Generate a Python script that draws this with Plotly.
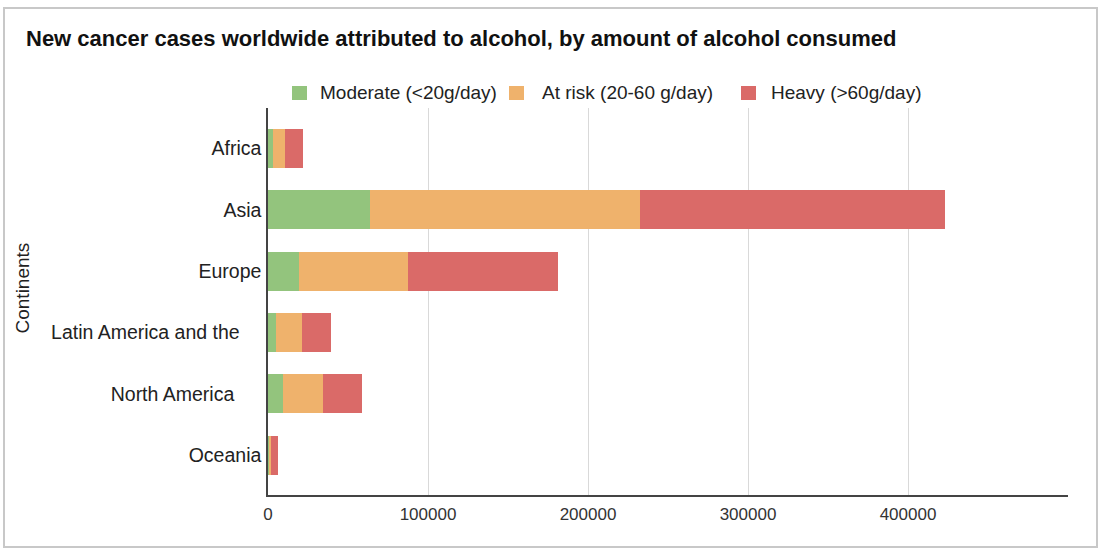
import plotly.graph_objects as go

continents = ["Africa", "Asia", "Europe", "Latin America and the", "North America", "Oceania"]
moderate = [3100, 63800, 19300, 5200, 9300, 500]
at_risk = [7700, 168800, 68200, 16200, 25000, 1600]
heavy = [11000, 190700, 93800, 17700, 24500, 4100]
series_names = ["Moderate (<20g/day)", "At risk (20-60 g/day)", "Heavy (>60g/day)"]
colors = ["#93c47d", "#efb26c", "#da6a68"]
x_ticks = [0, 100000, 200000, 300000, 400000]

W, H = 1102, 552
L, R, T, B = 268, 1068, 108, 495
FONT = "Liberation Sans, Arial, sans-serif"

# label padding to mimic the original's label placement
pad = {"Latin America and the": 4, "North America": 5}
ticktext = [c + "\u00a0" * pad.get(c, 0) for c in continents]

fig = go.Figure()
for name, vals, col in zip(series_names, [moderate, at_risk, heavy], colors):
    fig.add_trace(go.Bar(
        y=continents, x=vals, name=name, orientation="h",
        marker=dict(color=col, line=dict(width=0)), showlegend=False,
    ))

def px(x):
    return (x - L) / (R - L)

def py(y):
    return (B - y) / (B - T)

# outer border
fig.add_shape(type="rect", xref="paper", yref="paper",
              x0=px(4), x1=px(1097), y0=py(8), y1=py(547),
              line=dict(color="#c8c8c8", width=2), layer="below")

# manual legend (square + label), positions in pixels
legend_sq_x = [292, 509, 741]
legend_txt_x = [318, 540, 769]
legend_y = 93
for name, col, sx, tx in zip(series_names, colors, legend_sq_x, legend_txt_x):
    fig.add_shape(type="rect", xref="paper", yref="paper",
                  x0=px(sx), x1=px(sx + 15), y0=py(legend_y - 7), y1=py(legend_y + 7),
                  fillcolor=col, line=dict(width=0))
    fig.add_annotation(xref="paper", yref="paper", x=px(tx), y=py(legend_y),
                       xanchor="left", yanchor="middle", showarrow=False,
                       text=name, font=dict(family=FONT, size=19, color="#222"))

# y axis title
fig.add_annotation(xref="paper", yref="paper", x=px(21.5), y=py(288),
                   xanchor="center", yanchor="middle", showarrow=False, textangle=-90,
                   text="Continents", font=dict(family=FONT, size=19, color="#222"))

fig.update_layout(
    width=W, height=H,
    margin=dict(l=L, r=W - R, t=T, b=H - B, pad=0, autoexpand=False),
    barmode="stack", bargap=0.36,
    paper_bgcolor="white", plot_bgcolor="white",
    font=dict(family=FONT, size=14, color="#222"),
    title=dict(text="<b>New cancer cases worldwide attributed to alcohol, by amount of alcohol consumed</b>",
               x=26 / W, xanchor="left", xref="container", y=1 - 38 / H, yanchor="middle",
               yref="container", font=dict(size=22, color="#111")),
    showlegend=False,
    xaxis=dict(range=[0, 500000], tickvals=x_ticks, ticktext=[str(v) for v in x_ticks],
               showgrid=True, gridcolor="#d9d9d9", gridwidth=1,
               showline=True, linecolor="#444", linewidth=1.5,
               zeroline=False, ticks="", tickfont=dict(size=17, color="#333"),
               ticklabelstandoff=3, automargin=False),
    yaxis=dict(type="category", categoryarray=continents, categoryorder="array",
               range=[5.65, -0.66], tickvals=continents, ticktext=ticktext,
               showline=True, linecolor="#444", linewidth=1.5,
               showgrid=False, ticks="", tickfont=dict(size=19.5, color="#222"),
               ticklabelstandoff=1, automargin=False),
)

fig.write_html("out.html")
